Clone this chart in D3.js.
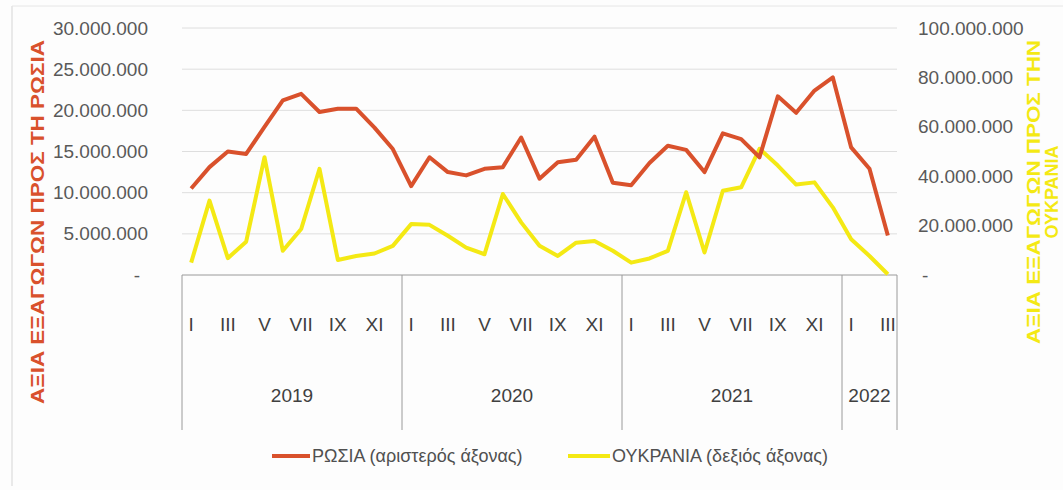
<!DOCTYPE html>
<html>
<head>
<meta charset="utf-8">
<script src="https://cdn.jsdelivr.net/npm/d3@7/dist/d3.min.js"></script>
<style>
    body { margin: 0; background: #fdfdfd; }
    svg { display: block; }
</style>
</head>
<body>
<svg id="chart" width="1063" height="490"></svg>
<script>
// monthly export values, Jan 2019 - Mar 2022
const years = ["2019", "2020", "2021", "2022"];
const monthNumerals = ["I", "II", "III", "IV", "V", "VI", "VII", "VIII", "IX", "X", "XI", "XII"];
const monthsPerYear = [12, 12, 12, 3];

const russiaValues = [
    10500000, 13100000, 15000000, 14700000, 18000000, 21200000, 22000000, 19800000, 20200000, 20200000, 17900000, 15300000,
    10800000, 14300000, 12500000, 12100000, 12900000, 13100000, 16700000, 11700000, 13700000, 14000000, 16800000, 11200000,
    10900000, 13600000, 15700000, 15200000, 12500000, 17200000, 16500000, 14300000, 21700000, 19700000, 22400000, 24000000,
    15500000, 12900000, 4800000
];
const ukraineValues = [
    5000000, 30100000, 6800000, 13500000, 47700000, 9800000, 18600000, 43000000, 6100000, 7700000, 8700000, 11800000,
    20600000, 20300000, 15900000, 11100000, 8400000, 32800000, 21300000, 11800000, 7700000, 13100000, 13800000, 9800000,
    5000000, 6700000, 9800000, 33500000, 9100000, 34100000, 35500000, 51100000, 44300000, 36600000, 37500000, 27400000,
    14500000, 7700000, 300000
];

const leftTicks = [0, 5000000, 10000000, 15000000, 20000000, 25000000, 30000000];
const rightTicks = [0, 20000000, 40000000, 60000000, 80000000, 100000000];

const leftTitle = "ΑΞΙΑ ΕΞΑΓΩΓΩΝ ΠΡΟΣ ΤΗ ΡΩΣΙΑ";
const rightTitle = ["ΑΞΙΑ ΕΞΑΓΩΓΩΝ ΠΡΟΣ ΤΗΝ", "ΟΥΚΡΑΝΙΑ"];
const legendLabels = ["ΡΩΣΙΑ (αριστερός άξονας)", "ΟΥΚΡΑΝΙΑ (δεξιός άξονας)"];

function getColorRussia() { return "#d9512c"; }
function getColorUkraine() { return "#f4e914"; }

const labelFont = "'Liberation Sans Narrow', 'Liberation Sans', Arial, sans-serif";

function buildCategories()
{
    var cats = [];
    years.forEach(function (y, i)
    {
        for (var m = 0; m < monthsPerYear[i]; m++)
        {
            cats.push({ key: y + "-" + (m + 1), year: y, month: m });
        }
    });
    return cats;
}

function formatNumber(v)
{
    if (v === 0) return "-";
    return d3.format(",")(v).replace(/,/g, ".");
}

const draw = () =>
{
    var svg = d3.select("#chart");
    svg.selectAll("*").remove();

    var categories = buildCategories();
    var left = 182, right = 897, top = 28, base = 275;

    var x = d3.scaleBand().domain(categories.map(c => c.key)).range([left, right]);
    var cx = key => x(key) + x.bandwidth() / 2;
    var yLeft = d3.scaleLinear().domain([0, 30000000]).range([base, top]);
    var yRight = d3.scaleLinear().domain([0, 100000000]).range([base, top]);

    // faint frame
    svg.append("line").attr("x1", 12).attr("x2", 12).attr("y1", 6).attr("y2", 486)
        .attr("stroke", "#e2e2e2").attr("stroke-width", 1.5);
    svg.append("line").attr("x1", 12).attr("x2", 1063).attr("y1", 6).attr("y2", 6)
        .attr("stroke", "#e6e6e6").attr("stroke-width", 1);

    // gridlines
    svg.append("g")
        .selectAll("line")
        .data(leftTicks.filter(t => t > 0))
        .enter().append("line")
        .attr("x1", left).attr("x2", right)
        .attr("y1", d => yLeft(d)).attr("y2", d => yLeft(d))
        .attr("stroke", "#dedede").attr("stroke-width", 1);

    // left axis
    var axL = svg.append("g")
        .attr("transform", `translate(${left},0)`)
        .call(d3.axisLeft(yLeft).tickValues(leftTicks).tickSize(0).tickPadding(34).tickFormat(formatNumber));
    axL.select(".domain").remove();
    axL.selectAll("text")
        .attr("font-family", labelFont).attr("font-size", 19).attr("fill", "#595959")
        .attr("dx", d => d === 0 ? -8 : 0);

    // right axis
    var axR = svg.append("g")
        .attr("transform", `translate(${right},0)`)
        .call(d3.axisRight(yRight).tickValues(rightTicks).tickSize(0).tickPadding(21).tickFormat(formatNumber));
    axR.select(".domain").remove();
    axR.selectAll("text")
        .attr("font-family", labelFont).attr("font-size", 19).attr("fill", "#595959")
        .attr("dx", d => d === 0 ? 4 : 0);

    // category box (months + years)
    var box = svg.append("g").attr("stroke", "#9a9a9a").attr("stroke-width", 1);
    box.append("line").attr("x1", left).attr("x2", right).attr("y1", base).attr("y2", base);
    var bounds = years.map(y => x(categories.find(c => c.year === y).key)).concat([right]);
    box.selectAll("line.sep")
        .data(bounds)
        .enter().append("line")
        .attr("class", "sep")
        .attr("x1", d => d).attr("x2", d => d)
        .attr("y1", base).attr("y2", 430);

    svg.append("g")
        .selectAll("text")
        .data(categories.filter(c => c.month % 2 === 0))
        .enter().append("text")
        .attr("x", d => cx(d.key))
        .attr("y", 331)
        .attr("text-anchor", "middle")
        .attr("font-family", labelFont).attr("font-size", 19).attr("fill", "#404040")
        .text(d => monthNumerals[d.month]);

    svg.append("g")
        .selectAll("text")
        .data(years)
        .enter().append("text")
        .attr("x", (d, i) => (bounds[i] + bounds[i + 1]) / 2)
        .attr("y", 402)
        .attr("text-anchor", "middle")
        .attr("font-family", labelFont).attr("font-size", 19).attr("fill", "#404040")
        .text(d => d);

    // series
    var lineLeft = d3.line().x((d, i) => cx(categories[i].key)).y(d => yLeft(d));
    var lineRight = d3.line().x((d, i) => cx(categories[i].key)).y(d => yRight(d));

    svg.append("path")
        .datum(ukraineValues)
        .attr("d", lineRight)
        .attr("fill", "none").attr("stroke", getColorUkraine()).attr("stroke-width", 4)
        .attr("stroke-linejoin", "round");

    svg.append("path")
        .datum(russiaValues)
        .attr("d", lineLeft)
        .attr("fill", "none").attr("stroke", getColorRussia()).attr("stroke-width", 4)
        .attr("stroke-linejoin", "round");

    // axis titles
    svg.append("text")
        .attr("transform", "translate(44,222) rotate(-90)")
        .attr("text-anchor", "middle")
        .attr("font-family", "'Liberation Sans', Arial, sans-serif")
        .attr("font-weight", "bold").attr("font-size", 18)
        .attr("fill", getColorRussia())
        .attr("textLength", 364).attr("lengthAdjust", "spacingAndGlyphs")
        .text(leftTitle);

    var rt = svg.append("text")
        .attr("transform", "translate(1040,192) rotate(-90)")
        .attr("text-anchor", "middle")
        .attr("font-family", "'Liberation Sans', Arial, sans-serif")
        .attr("font-weight", "bold").attr("font-size", 18)
        .attr("fill", getColorUkraine());
    rt.append("tspan").attr("x", 0).attr("dy", 0)
        .attr("textLength", 304).attr("lengthAdjust", "spacingAndGlyphs")
        .text(rightTitle[0]);
    rt.append("tspan").attr("x", 0).attr("dy", 18).text(rightTitle[1]);

    // legend
    var legend = svg.append("g");
    var items = [
        { label: legendLabels[0], color: getColorRussia(), x1: 272, x2: 310 },
        { label: legendLabels[1], color: getColorUkraine(), x1: 568, x2: 610 }
    ];
    items.forEach(function (it)
    {
        legend.append("line")
            .attr("x1", it.x1).attr("x2", it.x2).attr("y1", 456).attr("y2", 456)
            .attr("stroke", it.color).attr("stroke-width", 4);
        legend.append("text")
            .attr("x", it.x2 + 2).attr("y", 462)
            .attr("font-family", labelFont).attr("font-size", 18).attr("fill", "#505050")
            .text(it.label);
    });
};

draw();
</script>
</body>
</html>
